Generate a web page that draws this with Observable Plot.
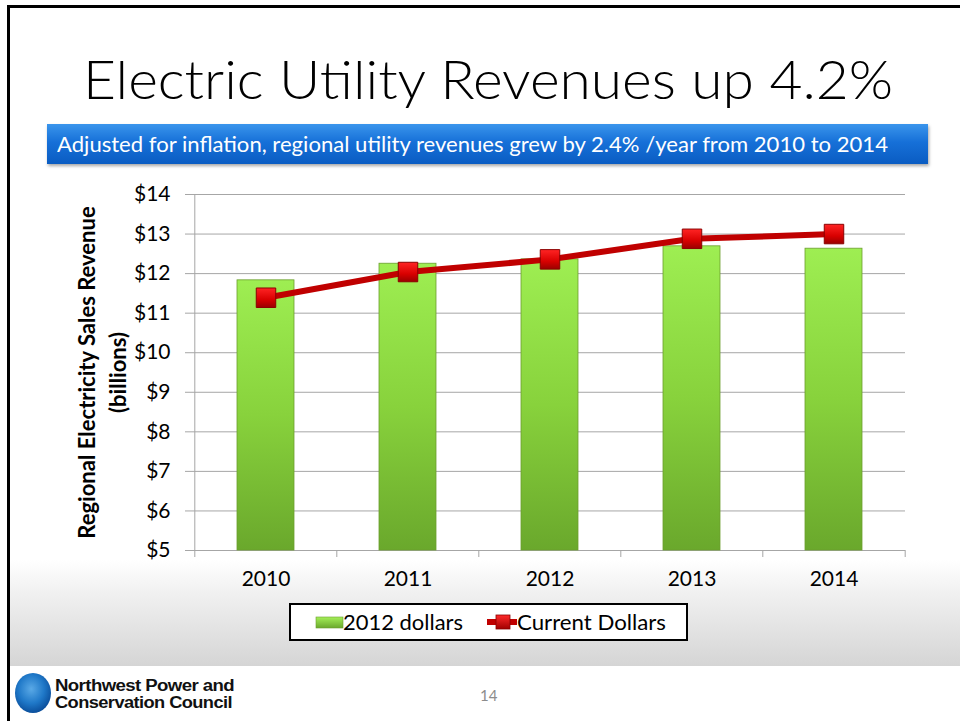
<!DOCTYPE html>
<html>
<head>
<meta charset="utf-8">
<script src="https://cdn.jsdelivr.net/npm/d3@7"></script>
<script src="https://cdn.jsdelivr.net/npm/@observablehq/plot@0.6"></script>
<style>
  html, body { margin: 0; padding: 0; background: #fff; }
  #slide { position: relative; width: 960px; height: 721px; overflow: hidden; background: #fff; font-family: Lato, "Open Sans", sans-serif; }
  #frame { position: absolute; left: 7px; top: 5px; width: 960px; height: 730px; border-left: 3px solid #000; border-top: 3px solid #000; box-sizing: border-box; }
  #band { position: absolute; left: 10px; right: 0; top: 560px; height: 106px; background: linear-gradient(#ffffff, #f1f1f1 30%, #d5d5d5); }
  .fit { position: absolute; white-space: nowrap; transform-origin: left center; display: inline-block; }
  #title { left: 83px; top: 52px; font-size: 53px; font-weight: 300; line-height: 53px; color: #000; }
  #banner { position: absolute; left: 47px; top: 124px; width: 881px; height: 40px; background: linear-gradient(#3a95ec, #1670d8 45%, #0a5cc2); box-shadow: 1px 2px 3px rgba(0,0,0,0.35); }
  #bannerText { left: 57px; top: 131px; font-size: 21px; line-height: 26px; color: #fff; }
  #chart { position: absolute; left: 0; top: 180px; }
  #legend { position: absolute; left: 289px; top: 603px; width: 399px; height: 38px; border: 2px solid #000; box-sizing: border-box; background: #fff; }
  .legText { position: absolute; font-size: 21px; line-height: 24px; color: #000; top: 610px; white-space: nowrap; transform-origin: left center; }
  #logoText1, #logoText2 { font-family: "Liberation Sans", Arial, sans-serif; font-weight: bold; font-size: 16px; line-height: 16px; color: #111; letter-spacing: -0.5px; }
  #page { position: absolute; left: 480px; top: 686px; font-size: 15px; color: #8c8c8c; font-family: Lato, sans-serif; }
</style>
</head>
<body>
<div id="slide">
  <div id="band"></div>
  <div id="frame"></div>
  <div id="title" class="fit">Electric Utility Revenues up 4.2%</div>
  <div id="banner"></div>
  <div id="bannerText" class="fit">Adjusted for inflation, regional utility revenues grew by 2.4% /year from 2010 to 2014</div>
  <div id="chart"></div>
  <div id="legend"></div>
  <svg id="legSw1" style="position:absolute;left:314px;top:614px" width="32" height="16">
    <defs><linearGradient id="lg1" x1="0" y1="0" x2="0" y2="1"><stop offset="0" stop-color="#a4ef58"/><stop offset="1" stop-color="#6aa82c"/></linearGradient></defs>
    <rect x="2" y="3" width="27" height="11" fill="url(#lg1)" stroke="#6b9e2e" stroke-width="0.6"/>
  </svg>
  <div class="legText" id="leg1" style="left:343px">2012 dollars</div>
  <svg id="legSw2" style="position:absolute;left:484px;top:612px" width="36" height="20">
    <defs><linearGradient id="lg2" x1="0" y1="0" x2="0" y2="1"><stop offset="0" stop-color="#ff2a2a"/><stop offset="1" stop-color="#a00000"/></linearGradient></defs>
    <line x1="3" y1="10" x2="33" y2="10" stroke="#c00000" stroke-width="6"/>
    <rect x="12" y="3" width="14" height="14" fill="url(#lg2)" stroke="#8b0000" stroke-width="0.8"/>
  </svg>
  <div class="legText" id="leg2" style="left:517px">Current Dollars</div>
  <svg style="position:absolute;left:13px;top:672px" width="40" height="42">
    <defs><radialGradient id="logoG" cx="0.45" cy="0.4" r="0.6"><stop offset="0" stop-color="#5aa9e6"/><stop offset="0.6" stop-color="#1f78c8"/><stop offset="1" stop-color="#0b4f9c"/></radialGradient></defs>
    <ellipse cx="20" cy="21" rx="18" ry="20" fill="url(#logoG)"/>
  </svg>
  <div id="logoText1" class="fit" style="left:55px;top:678px">Northwest Power and</div>
  <div id="logoText2" class="fit" style="left:55px;top:695px">Conservation Council</div>
  <div id="page">14</div>
</div>
<script>
const years = ["2010", "2011", "2012", "2013", "2014"];
const dollars2012 = [11.83, 12.25, 12.36, 12.69, 12.63];
const currentDollars = [11.39, 12.04, 12.36, 12.88, 13.00];
const yTicks = [5, 6, 7, 8, 9, 10, 11, 12, 13, 14];
const yTitle = "Regional Electricity Sales Revenue\n(billions)";

const data = years.map((year, i) => ({ year, real: dollars2012[i], nominal: currentDollars[i] }));

const W = 960, H = 420, mL = 193, mR = 55, mT = 14, mB = 50;
const bw = (W - mL - mR) / years.length;
const gray = "#a6a6a6";
const money = d => "$" + d;

const svg = Plot.plot({
  width: W, height: H,
  marginLeft: mL, marginRight: mR, marginTop: mT, marginBottom: mB,
  style: { fontFamily: "Lato, 'Open Sans', sans-serif", fontSize: "20px", color: "#000", background: "transparent", overflow: "visible" },
  x: { domain: years, paddingInner: 0.6, paddingOuter: 0.3, label: null },
  y: { domain: [5, 14], label: null },
  marks: [
    Plot.gridY(yTicks, { stroke: gray, strokeOpacity: 1, strokeWidth: 1 }),
    Plot.axisY(yTicks, { tickSize: 8, tickPadding: 15, stroke: gray, strokeOpacity: 1, tickFormat: money, fontSize: 21, fill: "#000", label: null }),
    Plot.ruleX([years[0]], { dx: -bw / 2, stroke: gray, strokeWidth: 1 }),
    Plot.axisX({ tickSize: 7, tickFormat: () => "", dx: -bw / 2, stroke: gray, strokeOpacity: 1, label: null }),
    Plot.axisX([years[years.length - 1]], { tickSize: 7, tickFormat: () => "", dx: bw / 2, stroke: gray, strokeOpacity: 1, label: null }),
    Plot.axisX({ tickSize: 0, tickPadding: 21, fontSize: 21, fill: "#000", label: null }),
    Plot.barY(data, { x: "year", y1: 5, y2: "real", fill: "url(#barGrad)", stroke: "#6b9e2e", strokeWidth: 0.8 }),
    Plot.line(data, { x: "year", y: "nominal", stroke: "#c00000", strokeWidth: 6 }),
    Plot.dot(data, { x: "year", y: "nominal", symbol: "square", r: 11, fill: "url(#redGrad)", stroke: "#8b0000", strokeWidth: 1 }),
    Plot.text([yTitle], { text: d => d, frameAnchor: "left", rotate: -90, dx: -93, fontWeight: "bold", fontSize: 22, lineHeight: 1.42, textAnchor: "middle", fill: "#000" })
  ]
});

const ns = "http://www.w3.org/2000/svg";
const defs = document.createElementNS(ns, "defs");
defs.innerHTML = `
  <linearGradient id="barGrad" x1="0" y1="0" x2="0" y2="1">
    <stop offset="0" stop-color="#9eee52"/>
    <stop offset="0.5" stop-color="#88d23c"/>
    <stop offset="1" stop-color="#6aa82c"/>
  </linearGradient>
  <linearGradient id="redGrad" x1="0" y1="0" x2="0" y2="1">
    <stop offset="0" stop-color="#ff2424"/>
    <stop offset="0.6" stop-color="#d80000"/>
    <stop offset="1" stop-color="#9a0000"/>
  </linearGradient>`;
svg.insertBefore(defs, svg.firstChild);
document.getElementById("chart").appendChild(svg);

function fit(id, width) {
  const el = document.getElementById(id);
  const w = el.getBoundingClientRect().width;
  if (w > 0) el.style.transform = `scaleX(${width / w})`;
}
fit("title", 810);
fit("bannerText", 831);
fit("leg1", 120);
fit("leg2", 149);
fit("logoText1", 179);
fit("logoText2", 177);
</script>
</body>
</html>
